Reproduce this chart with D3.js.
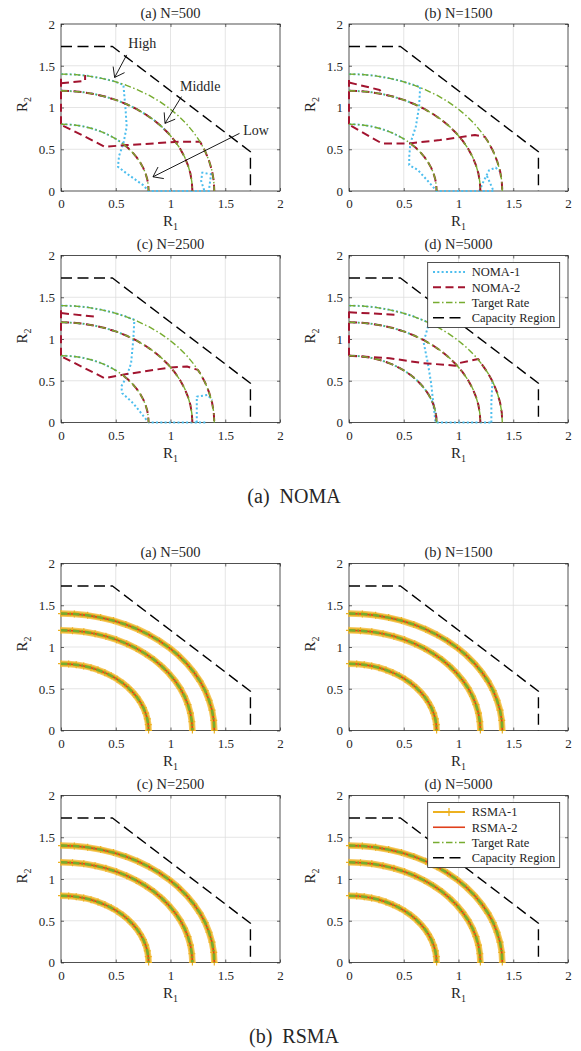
<!DOCTYPE html>
<html>
<head>
<meta charset="utf-8">
<script src="https://cdn.jsdelivr.net/npm/d3@7"></script>
<style>
  body { margin: 0; background: #fff; }
  svg { display: block; }
  text { font-family: "Liberation Serif", "Times New Roman", serif; fill: #262626; }
</style>
</head>
<body>
<svg id="fig" width="581" height="1051"></svg>
<script>
// ---------------- data ----------------
const panelTitles = ["(a) N=500", "(b) N=1500", "(c) N=2500", "(d) N=5000"];
const tickValues = [0, 0.5, 1, 1.5, 2];
const tickLabels = ["0", "0.5", "1", "1.5", "2"];
const figureCaptions = ["(a)\u00a0\u00a0NOMA", "(b)\u00a0\u00a0RSMA"];
const nomaLegend = ["NOMA-1", "NOMA-2", "Target Rate", "Capacity Region"];
const rsmaLegend = ["RSMA-1", "RSMA-2", "Target Rate", "Capacity Region"];

// capacity region boundary (R1, R2)
const capacityR1 = [0, 0.47, 1.73, 1.73];
const capacityR2 = [1.73, 1.73, 0.47, 0];

// target rate contours: low, middle and high
const lowR1  = [0.000, 0.070, 0.139, 0.207, 0.274, 0.338, 0.400, 0.459, 0.514, 0.566, 0.613, 0.655, 0.693, 0.725, 0.752, 0.773, 0.788, 0.797, 0.800];
const lowR2  = [0.800, 0.797, 0.788, 0.773, 0.752, 0.725, 0.693, 0.655, 0.613, 0.566, 0.514, 0.459, 0.400, 0.338, 0.274, 0.207, 0.139, 0.070, 0.000];
const midR1  = [0.000, 0.105, 0.208, 0.311, 0.410, 0.507, 0.600, 0.688, 0.771, 0.849, 0.919, 0.983, 1.039, 1.088, 1.128, 1.159, 1.182, 1.195, 1.200];
const midR2  = [1.200, 1.195, 1.182, 1.159, 1.128, 1.088, 1.039, 0.983, 0.919, 0.849, 0.771, 0.688, 0.600, 0.507, 0.410, 0.311, 0.208, 0.105, 0.000];
const highR1 = [0.000, 0.122, 0.243, 0.362, 0.479, 0.592, 0.700, 0.803, 0.900, 0.990, 1.072, 1.147, 1.212, 1.269, 1.316, 1.352, 1.379, 1.395, 1.400];
const highR2 = [1.400, 1.395, 1.379, 1.352, 1.316, 1.269, 1.212, 1.147, 1.072, 0.990, 0.900, 0.803, 0.700, 0.592, 0.479, 0.362, 0.243, 0.122, 0.000];

// NOMA achieved rates per panel; ["arc", fromR1, toR1] runs along a target contour
const noma1Segments = [
  [ // N=500
    [["high", 0, 0.57], [0.57, 1.27], [0.59, 0.97], [0.60, 0.77], [0.57, 0.57], [0.53, 0.42], [0.52, 0.29], [0.60, 0.21], [0.75, 0.07], [0.80, 0], [1.35, 0], [1.37, 0.20], [1.29, 0.22], [1.28, 0.12], [1.31, 0]],
    [["mid", 0, 1.0]],
    [["low", 0, 0.57]]
  ],
  [ // N=1500
    [["high", 0, 0.65], [0.65, 1.25], [0.64, 1.01], [0.61, 0.77], [0.56, 0.57], [0.55, 0.41], [0.55, 0.31], [0.63, 0.25], [0.72, 0.12], [0.80, 0], [1.33, 0]],
    [[1.19, 0.0], [1.23, 0.12], [1.28, 0.25], [1.34, 0.28], [1.37, 0.24]],
    [[1.26, 0.18], [1.32, 0.0]],
    [["mid", 0, 0.65]],
    [["low", 0, 0.56]]
  ],
  [ // N=2500
    [["high", 0, 0.67], [0.67, 1.23], [0.66, 0.99], [0.64, 0.71], [0.60, 0.55], [0.55, 0.43], [0.56, 0.35], [0.66, 0.23], [0.80, 0], [1.33, 0]],
    [[1.24, 0], [1.24, 0.31], [1.34, 0.33], [1.38, 0.27]],
    [["mid", 0, 0.67]],
    [["low", 0, 0.56]]
  ],
  [ // N=5000
    [["high", 0, 0.73], [0.73, 1.19], [0.70, 1.05], [0.68, 0.97], [0.72, 0.71], [0.75, 0.47], [0.77, 0.23], [0.79, 0], [1.31, 0]],
    [[1.30, 0], [1.30, 0.25], [1.31, 0.48]],
    [["mid", 0, 0.68]],
    [["low", 0, 0.8]]
  ]
];

const noma2Segments = [
  [ // N=500
    [[0, 0.80], [0, 1.37]],
    [[0, 1.29], [0.22, 1.32], [0.22, 1.39]],
    [[0.02, 0.78], [0.10, 0.73], [0.40, 0.53], [0.60, 0.55], [1.09, 0.59], [1.27, 0.59], ["high", 1.27, 1.4]],
    [["mid", 0, 1.2]],
    [[0.57, 0.56], ["low", 0.57, 0.8]]
  ],
  [ // N=1500
    [[0, 0.80], [0, 1.33]],
    [[0, 1.30], [0.28, 1.21], [0.31, 1.16]],
    [[0.02, 0.78], [0.30, 0.57], [0.55, 0.57], [0.83, 0.61], [1.15, 0.67], [1.24, 0.65], ["high", 1.24, 1.4]],
    [["mid", 0, 1.2]],
    [[0.57, 0.56], ["low", 0.57, 0.8]]
  ],
  [ // N=2500
    [[0, 0.80], [0, 1.35]],
    [[0, 1.31], [0.30, 1.27], [0.31, 1.22]],
    [[0.02, 0.78], [0.40, 0.53], [0.60, 0.58], [1.00, 0.66], [1.15, 0.67], [1.25, 0.63], ["high", 1.25, 1.4]],
    [["mid", 0, 1.2]],
    [[0.57, 0.56], ["low", 0.57, 0.8]]
  ],
  [ // N=5000
    [[0, 0.80], [0, 1.33]],
    [[0, 1.32], [0.43, 1.29], [0.44, 1.33]],
    [[0, 0.80], [0.37, 0.77], [0.68, 0.71], [0.89, 0.69], [0.97, 0.68], [1.00, 0.71], [1.18, 0.76], ["high", 1.18, 1.4]],
    [["mid", 0, 1.2]],
    [["low", 0, 0.8]]
  ]
];

// RSMA attains every target point, so both RSMA series sit on the contours
const rsmaContours = ["low", "mid", "high"];

// labels with arrows in the first NOMA panel: text position, arrow tail, arrow head (R1, R2)
const contourNotes = [
  { label: "High",   text: [0.615, 1.71], from: [0.60, 1.63], to: [0.49, 1.36] },
  { label: "Middle", text: [1.087, 1.20], from: [1.10, 1.13], to: [0.95, 0.81] },
  { label: "Low",    text: [1.665, 0.67], from: [1.63, 0.69], to: [0.84, 0.17] }
];

// ---------------- drawing ----------------
const svg = d3.select("#fig");
const W = 219, H = 167;
const nomaOrigins = [[61, 24], [349, 24], [61, 255.5], [349, 255.5]];
const rsmaOrigins = [[61, 563.5], [349, 563.5], [61, 795.5], [349, 795.5]];

const COLORS = {
  noma1: "#4DBEEE", noma2: "#A2142F", target: "#77AC30",
  capacity: "#000000", rsma1: "#EDB120", rsma2: "#E0401C"
};

const toPts = (a, b) => a.map((v, i) => [v, b[i]]);
const targetArcs = { low: toPts(lowR1, lowR2), mid: toPts(midR1, midR2), high: toPts(highR1, highR2) };
const capacityPts = toPts(capacityR1, capacityR2);

function expand(seg) {
  const out = [];
  seg.forEach(item => {
    if (typeof item[0] === "string") {
      targetArcs[item[0]].forEach(p => {
        if (p[0] >= item[1] - 1e-9 && p[0] <= item[2] + 1e-9) out.push(p);
      });
    } else out.push(item);
  });
  return out;
}

const lineStyles = {
  noma1:    { stroke: COLORS.noma1, width: 2, dash: "2,2.3" },
  noma2:    { stroke: COLORS.noma2, width: 2, dash: "8,4.5" },
  target:   { stroke: COLORS.target, width: 1.4, dash: "6.5,2.5,1.5,2.5" },
  targetR:  { stroke: COLORS.target, width: 2.5, dash: "6.5,2,1.5,2" },
  capacity: { stroke: COLORS.capacity, width: 1.4, dash: "11,5.5" },
  rsma1:    { stroke: COLORS.rsma1, width: 6.5, dash: null },
  rsma2:    { stroke: COLORS.rsma2, width: 1.6, dash: null }
};

function styled(sel, st) {
  sel.attr("fill", "none").attr("stroke", st.stroke).attr("stroke-width", st.width)
     .attr("stroke-dasharray", st.dash).attr("stroke-linejoin", "round");
  return sel;
}

let clipId = 0;
function drawAxes(ox, oy, title) {
  const g = svg.append("g");
  const x = d3.scaleLinear().domain([0, 2]).range([ox, ox + W]);
  const y = d3.scaleLinear().domain([0, 2]).range([oy + H, oy]);

  // grid
  g.append("g").selectAll("line").data(tickValues.slice(1, -1)).join("line")
    .attr("x1", d => x(d)).attr("x2", d => x(d)).attr("y1", oy).attr("y2", oy + H)
    .attr("stroke", "#dedede").attr("stroke-width", 0.8);
  g.append("g").selectAll("line").data(tickValues.slice(1, -1)).join("line")
    .attr("y1", d => y(d)).attr("y2", d => y(d)).attr("x1", ox).attr("x2", ox + W)
    .attr("stroke", "#dedede").attr("stroke-width", 0.8);

  const fmt = (d, i) => tickLabels[i];
  const axB = g.append("g").attr("transform", `translate(0,${oy + H})`)
    .call(d3.axisBottom(x).tickValues(tickValues).tickFormat(fmt).tickSize(-3).tickPadding(8));
  const axL = g.append("g").attr("transform", `translate(${ox},0)`)
    .call(d3.axisLeft(y).tickValues(tickValues).tickFormat(fmt).tickSize(-3).tickPadding(6));
  const axT = g.append("g").attr("transform", `translate(0,${oy})`)
    .call(d3.axisTop(x).tickValues(tickValues).tickFormat("").tickSize(-3));
  const axR = g.append("g").attr("transform", `translate(${ox + W},0)`)
    .call(d3.axisRight(y).tickValues(tickValues).tickFormat("").tickSize(-3));
  [axB, axL, axT, axR].forEach(a => {
    a.attr("font-family", null).attr("font-size", null);
    a.select(".domain").remove();
    a.selectAll(".tick line").attr("stroke", "#262626").attr("stroke-width", 0.7);
    a.selectAll(".tick text").attr("font-size", 13).attr("fill", "#262626");
  });
  axL.selectAll(".tick text").attr("dy", "0.34em");

  // box
  g.append("rect").attr("x", ox).attr("y", oy).attr("width", W).attr("height", H)
    .attr("fill", "none").attr("stroke", "#262626").attr("stroke-width", 0.8);

  // title
  g.append("text").attr("x", ox + W / 2).attr("y", oy - 6.5).attr("text-anchor", "middle")
    .attr("font-size", 14.5).text(title);

  // axis labels
  const xl = g.append("text").attr("x", ox + W / 2).attr("y", oy + H + 35)
    .attr("text-anchor", "middle").attr("font-size", 15);
  xl.append("tspan").text("R");
  xl.append("tspan").attr("font-size", 10).attr("dy", 4).text("1");
  const yl = g.append("text")
    .attr("transform", `translate(${ox - 34},${oy + H / 2 - 3}) rotate(-90)`)
    .attr("text-anchor", "middle").attr("font-size", 15);
  yl.append("tspan").text("R");
  yl.append("tspan").attr("font-size", 10).attr("dy", 4).text("2");

  // clip for the data
  const id = "clip" + (clipId++);
  svg.append("clipPath").attr("id", id).append("rect")
    .attr("x", ox - 3).attr("y", oy - 3).attr("width", W + 6).attr("height", H + 6);
  const plot = g.append("g").attr("clip-path", `url(#${id})`);
  return { g, plot, x, y };
}

function legend(g, ox, oy, labels, kinds) {
  const bx = ox + 78.7, by = oy + 7, bw = 132, bh = 65;
  g.append("rect").attr("x", bx).attr("y", by).attr("width", bw).attr("height", bh)
    .attr("fill", "#fff").attr("stroke", "#262626").attr("stroke-width", 0.8);
  labels.forEach((lab, i) => {
    const ry = oy + 16.5 + i * 15.25;
    const st = lineStyles[kinds[i]];
    styled(g.append("line").attr("x1", ox + 84).attr("x2", ox + 116).attr("y1", ry).attr("y2", ry), st)
      .attr("stroke-width", kinds[i] === "rsma1" ? 2 : Math.min(st.width, 2));
    if (kinds[i] === "rsma1") {
      const cx = ox + 100;
      g.append("path").attr("d", `M${cx - 4},${ry}H${cx + 4}M${cx},${ry - 4}V${ry + 4}`)
        .attr("stroke", COLORS.rsma1).attr("stroke-width", 1.3);
    }
    g.append("text").attr("x", ox + 122.7).attr("y", ry).attr("dy", "0.34em")
      .attr("font-size", 12.5).attr("fill", "#000").text(lab);
  });
}

// ----- NOMA panels -----
nomaOrigins.forEach(([ox, oy], p) => {
  const { g, plot, x, y } = drawAxes(ox, oy, panelTitles[p]);
  const line = d3.line().x(d => x(d[0])).y(d => y(d[1]));
  noma1Segments[p].forEach(seg => styled(plot.append("path").attr("d", line(expand(seg))), lineStyles.noma1));
  noma2Segments[p].forEach(seg => styled(plot.append("path").attr("d", line(expand(seg))), lineStyles.noma2));
  rsmaContours.forEach(k => styled(plot.append("path").attr("d", line(targetArcs[k])), lineStyles.target));
  styled(plot.append("path").attr("d", line(capacityPts)), lineStyles.capacity);

  if (p === 0) {
    contourNotes.forEach(n => {
      g.append("text").attr("x", x(n.text[0])).attr("y", y(n.text[1]))
        .attr("font-size", 14).attr("fill", "#000").text(n.label);
      const x1 = x(n.from[0]), y1 = y(n.from[1]), x2 = x(n.to[0]), y2 = y(n.to[1]);
      const ang = Math.atan2(y1 - y2, x1 - x2), L = 11, spread = Math.PI / 5;
      g.append("path")
        .attr("d", `M${x1},${y1}L${x2},${y2}` +
          `M${x2 + L * Math.cos(ang - spread)},${y2 + L * Math.sin(ang - spread)}L${x2},${y2}` +
          `L${x2 + L * Math.cos(ang + spread)},${y2 + L * Math.sin(ang + spread)}`)
        .attr("fill", "none").attr("stroke", "#000").attr("stroke-width", 0.9);
    });
  }
  if (p === 3) legend(g, ox, oy, nomaLegend, ["noma1", "noma2", "target", "capacity"]);
});

// ----- RSMA panels -----
rsmaOrigins.forEach(([ox, oy], p) => {
  const { g, plot, x, y } = drawAxes(ox, oy, panelTitles[p]);
  const line = d3.line().x(d => x(d[0])).y(d => y(d[1]));
  rsmaContours.forEach(k => {
    // RSMA-1: thick marker band
    styled(plot.append("path").attr("d", line(targetArcs[k])), lineStyles.rsma1)
      .attr("stroke", "#F4C75C");
    styled(plot.append("path").attr("d", line(targetArcs[k])), lineStyles.rsma1)
      .attr("stroke-width", 4.2);
    plot.append("g").selectAll("path").data(targetArcs[k]).join("path")
      .attr("d", d => `M${x(d[0]) - 3.5},${y(d[1])}H${x(d[0]) + 3.5}M${x(d[0])},${y(d[1]) - 3.5}V${y(d[1]) + 3.5}`)
      .attr("stroke", COLORS.rsma1).attr("stroke-width", 1.2);
  });
  rsmaContours.forEach(k => styled(plot.append("path").attr("d", line(targetArcs[k])), lineStyles.rsma2));
  rsmaContours.forEach(k => styled(plot.append("path").attr("d", line(targetArcs[k])), lineStyles.targetR));
  styled(plot.append("path").attr("d", line(capacityPts)), lineStyles.capacity);
  if (p === 3) legend(g, ox, oy, rsmaLegend, ["rsma1", "rsma2", "target", "capacity"]);
});

// captions
svg.append("text").attr("x", 294).attr("y", 503).attr("text-anchor", "middle")
  .attr("font-size", 20).attr("fill", "#000").text(figureCaptions[0]);
svg.append("text").attr("x", 294).attr("y", 1042.5).attr("text-anchor", "middle")
  .attr("font-size", 20).attr("fill", "#000").text(figureCaptions[1]);
</script>
</body>
</html>
